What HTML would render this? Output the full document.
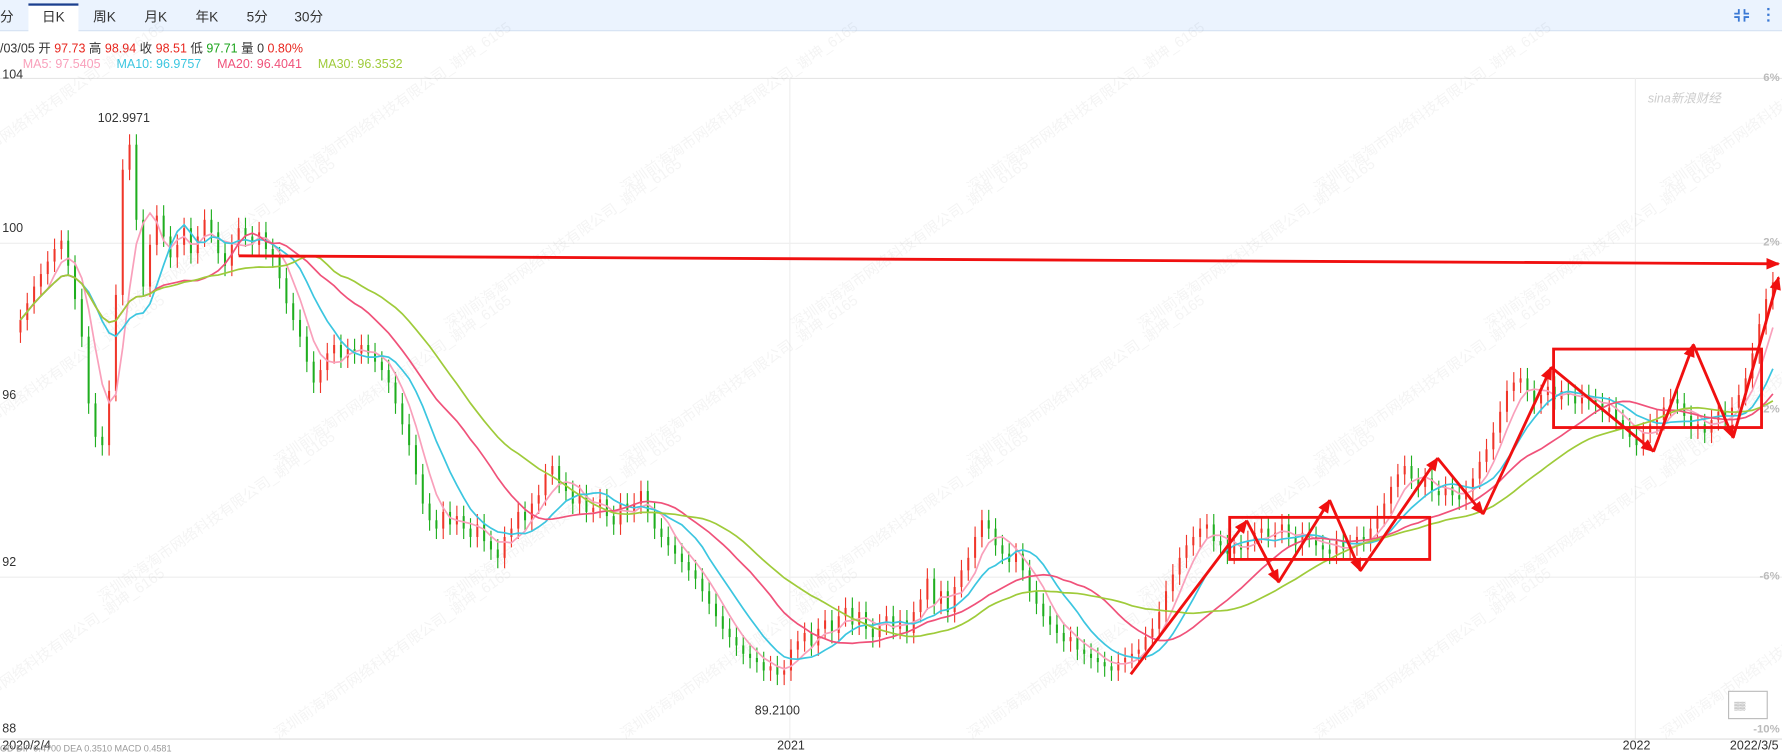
<!DOCTYPE html>
<html><head><meta charset="utf-8"><style>
html,body{margin:0;padding:0;background:#fff;overflow:hidden;width:1782px;height:755px}
svg{display:block}
text{font-family:"Liberation Sans","Noto Sans CJK SC",sans-serif}
</style></head><body>
<svg id="chart" width="1782" height="755" viewBox="0 0 1568 664" preserveAspectRatio="none" xmlns="http://www.w3.org/2000/svg" overflow="hidden">
<defs><clipPath id="clipAll"><rect x="0" y="0" width="1568" height="664"/></clipPath></defs>
<rect x="0" y="0" width="1568" height="27" fill="#ebf3fe"/>
<line x1="0" y1="27" x2="1568" y2="27" stroke="#d6e2f2"/>
<text x="0" y="19" font-size="12" fill="#333">分</text>
<rect x="25" y="3" width="44" height="25" fill="#fff"/>
<rect x="25" y="3" width="44" height="2" fill="#1b3f8f"/>
<text x="37" y="19" font-size="12" fill="#333">日K</text>
<text x="82" y="19" font-size="12" fill="#333">周K</text>
<text x="127" y="19" font-size="12" fill="#333">月K</text>
<text x="172" y="19" font-size="12" fill="#333">年K</text>
<text x="217" y="19" font-size="12" fill="#333">5分</text>
<text x="259" y="19" font-size="12" fill="#333">30分</text>
<g stroke="#3a78d4" stroke-width="1.6" fill="none">
<path d="M1530 8v4h-4M1535 8v4h4M1530 19v-4h-4M1535 19v-4h4"/></g>
<g fill="#3a78d4">
<rect x="1555" y="7" width="2" height="2"/><rect x="1555" y="12" width="2" height="2"/><rect x="1555" y="17" width="2" height="2"/></g>
<text x="0" y="46" font-size="11"><tspan fill="#333">/03/05 开 </tspan><tspan fill="#e8261e">97.73</tspan><tspan fill="#333"> 高 </tspan><tspan fill="#e8261e">98.94</tspan><tspan fill="#333"> 收 </tspan><tspan fill="#e8261e">98.51</tspan><tspan fill="#333"> 低 </tspan><tspan fill="#1aa31a">97.71</tspan><tspan fill="#333"> 量 0 </tspan><tspan fill="#e8261e">0.80%</tspan></text>
<text x="20" y="60" font-size="11"><tspan fill="#f9a0bb">MA5: 97.5405</tspan><tspan dx="14" fill="#3cc6e0">MA10: 96.9757</tspan><tspan dx="14" fill="#f0527a">MA20: 96.4041</tspan><tspan dx="14" fill="#9fcb3a">MA30: 96.3532</tspan></text>
<line x1="0" y1="69" x2="1568" y2="69" stroke="#e6e6e6"/>
<g id="grid"></g>
<g clip-path="url(#clipAll)"><g id="wm" fill="#000" opacity="0.045" font-size="13"></g></g>
<text x="1450" y="90" font-size="11" fill="#ccc" font-style="italic">sina新浪财经</text>
<g id="candles"></g><g id="mas"></g><g id="axes"></g>
<g id="annot" stroke="#f01010" stroke-width="2.5" fill="none"></g>
<rect x="1521" y="608" width="34" height="24" fill="#fff" stroke="#bbb"/>
<text x="1526" y="623" font-size="7" fill="#666">▒▒</text>
<text x="0" y="661" font-size="8" fill="#999">OD DIF 0.4700     DEA 0.3510     MACD 0.4581</text>
</svg>
<script>
const closes=[98.0,98.4,98.8,99.1,99.4,99.7,99.9,99.3,98.5,97.6,
96.0,95.2,95.0,96.3,98.6,101.6,102.2,100.4,98.8,99.8,
100.5,100.0,99.5,99.8,100.2,99.6,100.0,100.4,100.1,99.6,
99.3,99.8,100.2,100.0,99.8,100.1,99.7,99.5,99.0,98.4,
98.0,97.6,97.0,96.5,96.8,97.2,97.4,97.1,97.3,97.2,
97.4,97.2,97.0,96.8,96.5,96.0,95.5,95.0,94.3,93.6,
93.2,93.0,93.4,93.1,93.3,93.0,92.8,93.1,92.7,92.5,
92.3,92.8,93.0,93.4,93.2,93.6,93.8,94.3,94.5,94.1,
93.9,93.6,93.8,93.4,93.5,93.7,93.3,93.1,93.6,93.4,
93.6,93.9,93.4,93.0,92.8,92.6,92.4,92.2,92.0,91.8,
91.5,91.2,90.9,90.6,90.4,90.2,90.0,89.9,89.8,89.6,
89.7,89.5,89.6,90.1,90.3,90.5,90.2,90.6,90.8,90.5,
90.9,91.1,90.7,91.0,90.6,90.4,90.7,90.9,90.6,90.8,
90.5,91.0,91.3,91.8,91.2,91.5,91.0,91.6,92.0,92.3,
92.8,93.2,93.0,92.6,92.4,92.2,92.4,92.0,91.5,91.2,
90.9,90.7,90.5,90.3,90.4,90.1,90.0,89.9,89.8,89.7,
89.6,89.8,89.9,90.0,90.1,90.4,90.6,91.0,91.5,91.9,
92.3,92.6,92.8,93.0,93.1,92.7,92.6,92.4,92.6,92.5,
92.7,92.9,93.0,92.8,92.9,93.1,92.8,92.6,92.9,92.8,
92.6,92.5,92.4,92.7,92.5,92.6,92.8,92.7,93.0,93.3,
93.6,94.0,94.3,94.5,94.2,94.0,94.2,93.9,93.8,94.0,
93.8,93.7,93.9,94.2,94.6,94.9,95.3,95.8,96.3,96.5,
96.6,96.3,96.0,96.2,96.4,96.1,96.3,96.2,96.0,96.2,
96.1,96.0,95.8,95.9,95.6,95.4,95.2,95.0,95.3,95.5,
95.6,95.9,96.1,96.0,95.7,95.4,95.5,95.3,95.6,95.8,
95.7,95.9,96.2,96.6,97.2,97.9,98.5,98.9];
const yTicks=[104,100,96,92,88];
const pctTicks=["6%","2%","-2%","-6%","-10%"];
const pctValues=[104,100,96,92,88];
const xLabels=["2020/2/4","2021","2022","2022/3/5"];
const xLabelIdx=[0,113,237,258];
const maPeriods=[5,10,20,30];
const maColors=["#f9a0bb","#3cc6e0","#f0527a","#9fcb3a"];
const wick=0.25;
const NS="http://www.w3.org/2000/svg";
const X=i=>18+6*i, Y=v=>208+(100-v)*36.7;
function mk(t,a,p){const e=document.createElementNS(NS,t);for(const k in a)e.setAttribute(k,a[k]);p.appendChild(e);return e;}
const grid=document.getElementById('grid');
[100,92].forEach(v=>{mk('line',{x1:0,x2:1568,y1:Y(v)+6,y2:Y(v)+6,stroke:'#eee'},grid);});
[113,237].forEach(i=>{mk('line',{x1:X(i)-1,x2:X(i)-1,y1:69,y2:650,stroke:'#eee'},grid);});
mk('line',{x1:0,x2:1568,y1:650,y2:650,stroke:'#ddd'},grid);
const wm=document.getElementById('wm');
for(let r=0;r<5;r++)for(let c=0;c<6;c++){const t=mk('text',{x:0,y:0,transform:`translate(${c*305+(r%2)*150-60},${r*120+170}) rotate(-35)`},wm);t.textContent='深圳前海淘市网络科技有限公司_谢坤_6165';}
const cg=document.getElementById('candles');
closes.forEach((c,i)=>{const o=i?closes[i-1]:c-0.3;const up=c>=o;const col=up?'#f0362a':'#1fae1f';
const hi=Math.max(o,c)+wick, lo=Math.min(o,c)-wick;
const g=mk('g',{},cg);


mk('line',{x1:X(i),x2:X(i),y1:Y(hi),y2:Y(lo),stroke:col,'stroke-width':1},g);
mk('rect',{x:X(i)-0.9,y:Math.min(Y(o),Y(c)),width:1.8,height:Math.max(1,Math.abs(Y(o)-Y(c))),fill:col},g);});
const mg=document.getElementById('mas');
maPeriods.forEach((p,k)=>{let d='';closes.forEach((c,i)=>{const s=closes.slice(Math.max(0,i-p+1),i+1);const m=s.reduce((a,b)=>a+b,0)/s.length;d+=(i?'L':'M')+X(i).toFixed(1)+' '+Y(m).toFixed(1);});
const pth=mk('path',{d:d,fill:'none',stroke:maColors[k],'stroke-width':1.5},mg);

});
const ax=document.getElementById('axes');
yTicks.forEach((v,i)=>{const t=mk('text',{x:2,y:i==0?Y(v)+8:Y(v)-4,'font-size':11,fill:'#333'},ax);t.textContent=v;

});
pctTicks.forEach((s,i)=>{const t=mk('text',{x:1566,y:i==0?Y(pctValues[i])+10:Y(pctValues[i])+(i==4?-4:8),'font-size':10,fill:'#bbb','text-anchor':'end','font-weight':'bold'},ax);t.textContent=s;

});
xLabels.forEach((s,i)=>{const last=i==xLabels.length-1;const t=mk('text',{x:last?1565:(i==0?2:X(xLabelIdx[i])),y:659,'font-size':11,fill:'#333','text-anchor':last?'end':(i==0?'start':'middle')},ax);t.textContent=s;

});
let mx=0,mn=0;closes.forEach((c,i)=>{if(c>closes[mx])mx=i;if(c<closes[mn])mn=i;});
let t1=mk('text',{x:X(mx)-5,y:Y(closes[mx])-20,'font-size':11,fill:'#333','text-anchor':'middle'},ax);t1.textContent='102.9971';


let t2=mk('text',{x:X(mn),y:Y(closes[mn])+35,'font-size':11,fill:'#333','text-anchor':'middle'},ax);t2.textContent='89.2100';


const an=document.getElementById('annot');
function arrow(x1,y1,x2,y2){mk('line',{x1,y1,x2,y2},an);const a=Math.atan2(y2-y1,x2-x1),L=11,w=0.4;
mk('path',{d:`M${x2} ${y2}L${x2-L*Math.cos(a-w)} ${y2-L*Math.sin(a-w)}L${x2-L*Math.cos(a+w)} ${y2-L*Math.sin(a+w)}Z`,fill:'#f01010','stroke-width':1},an);}
arrow(210,225,1565,232);
const zz=[[995,593],[1097,458],[1125,512],[1170,440],[1197,502],[1265,403],[1305,452],[1365,323],[1455,397],[1490,303],[1525,385],[1565,244]];
for(let i=1;i<zz.length;i++)arrow(zz[i-1][0],zz[i-1][1],zz[i][0],zz[i][1]);
mk('rect',{x:1082,y:455,width:176,height:37},an);
mk('rect',{x:1367,y:307,width:183,height:69},an);
</script>
</body></html>
